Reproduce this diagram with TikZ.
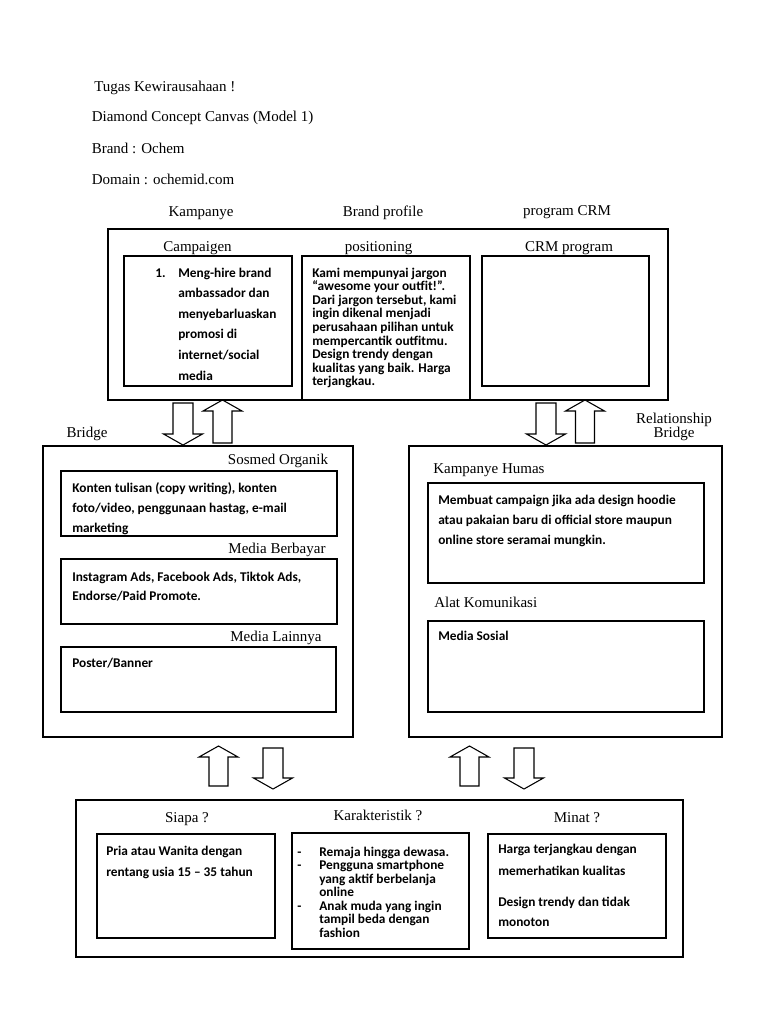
\documentclass[tikz,border=0pt]{standalone}
\usepackage{fontspec}
\setmainfont{Liberation Serif}
\newfontfamily\calibri{Carlito}
\usetikzlibrary{positioning}

\tikzset{
  lbl/.style={font=\fontsize{11.25}{13}\selectfont, inner sep=0pt, anchor=base},
  boxtext/.style={font=\calibri\bfseries\fontsize{10}{#1}\selectfont, inner sep=0pt, anchor=base west, align=left},
  boxtext/.default=15,
  frame/.style={draw, line width=0.9pt},
  pics/dnarr/.style={code={\draw[line width=0.8pt] (-10,0) -- (10,0) -- (10,#1) -- (19.5,#1) -- (0,#1+11) -- (-19.5,#1) -- (-10,#1) -- cycle;}},
  pics/uparr/.style={code={\draw[line width=0.8pt] (-9.5,0) -- (9.5,0) -- (9.5,-#1) -- (19.5,-#1) -- (0,-#1-11) -- (-19.5,-#1) -- (-9.5,-#1) -- cycle;}}
}

\begin{document}
\begin{tikzpicture}[x=0.75pt, y=-0.75pt]
  \fill[white] (0,0) rectangle (768,1024);

  % heading
  \node[lbl, anchor=base west] (tugas) at (94,91) {Tugas Kewirausahaan !};
  \node[lbl, anchor=base west] (model) at (91.5,122) {Diamond Concept Canvas (Model 1)};
  \node[lbl, anchor=base west] (brand) at (91.5,153) {Brand : Ochem};
  \node[lbl, anchor=base west] (domain) at (91.5,184) {Domain : ochemid.com};

  % brand profile row (multi-line texts sit on their last line)
  \node[lbl] (kampanye) at (201,216) {Kampanye};
  \node[lbl] (brandprofile) at (383,216) {Brand profile};
  \node[lbl] (programcrm) at (567,215) {program CRM};
  \draw[frame] (108,229) rectangle (668,400);
  \node[lbl] (campaigen) at (197.5,251) {Campaigen};
  \node[lbl] (positioning) at (378.5,251) {positioning};
  \node[lbl] (crmprogram) at (569,251) {CRM program};
  \draw[frame] (124,256) rectangle (292,386);
  \draw[frame] (302,256) rectangle (470,400);
  \draw[frame] (482,256) rectangle (649,386);
  \node[boxtext] (num) at (155,277) {1.};
  \node[boxtext=15.45] (campaigntext) at (178,380) {Meng-hire brand\\ambassador dan\\menyebarluaskan\\promosi di\\internet/social\\media};
  \node[boxtext=10.2] (positiontext) at (312,385.8) {Kami mempunyai jargon\\“awesome your outfit!”.\\Dari jargon tersebut, kami\\ingin dikenal menjadi\\perusahaan pilihan untuk\\mempercantik outfitmu.\\Design trendy dengan\\kualitas yang baik. Harga\\terjangkau.};

  % arrows between rows
  \pic at (183,403) {dnarr=31};
  \pic at (222.5,443) {uparr=32};
  \pic at (546,403) {dnarr=31};
  \pic at (585,443) {uparr=32};

  % bridge
  \node[lbl] (bridge) at (87,437) {Bridge};
  \draw[frame] (43,446) rectangle (353,737);
  \node[lbl] (sosmed) at (278,464) {Sosmed Organik};
  \draw[frame] (61,471) rectangle (337,536);
  \begin{scope}
    \clip (61,471) rectangle (337,536);
    \node[boxtext=14.8] (sosmedtext) at (72,532.4) {Konten tulisan (copy writing), konten\\foto/video, penggunaan hastag, e-mail\\marketing};
  \end{scope}
  \node[lbl] (berbayar) at (277,553) {Media Berbayar};
  \draw[frame] (61,559) rectangle (337,624);
  \node[boxtext=14.6] (berbayartext) at (72,600.5) {Instagram Ads, Facebook Ads, Tiktok Ads,\\Endorse/Paid Promote.};
  \node[lbl] (lainnya) at (276,641) {Media Lainnya};
  \draw[frame] (61,647) rectangle (336,712);
  \node[boxtext] (lainnyatext) at (72,667) {Poster/Banner};

  % relationship bridge
  \node[lbl, align=center, font=\fontsize{11.25}{10.5}\selectfont] (relbridge) at (674,437) {Relationship\\Bridge};
  \draw[frame] (409,446) rectangle (722,737);
  \node[lbl, anchor=base west] (humas) at (433,473) {Kampanye Humas};
  \draw[frame] (428,483) rectangle (704,583);
  \node[boxtext] (humastext) at (438,544) {Membuat campaign jika ada design hoodie\\atau pakaian baru di official store maupun\\online store seramai mungkin.};
  \node[lbl, anchor=base west] (alat) at (434,607) {Alat Komunikasi};
  \draw[frame] (428,621) rectangle (704,712);
  \node[boxtext] (alattext) at (438,640) {Media Sosial};

  % arrows to target row
  \pic at (218.5,786) {uparr=29};
  \pic at (273,748) {dnarr=30};
  \pic at (469.5,786) {uparr=29};
  \pic at (524,748) {dnarr=30};

  % target
  \draw[frame] (76,800) rectangle (683,957);
  \node[lbl] (siapa) at (187,822) {Siapa ?};
  \node[lbl] (karakter) at (378,820) {Karakteristik ?};
  \node[lbl] (minat) at (577,822) {Minat ?};
  \draw[frame] (97,834) rectangle (275,938);
  \draw[frame] (292,833) rectangle (469,949);
  \draw[frame] (488,834) rectangle (666,938);
  \node[boxtext=15.75] (siapatext) at (106,876) {Pria atau Wanita dengan\\rentang usia 15 – 35 tahun};
  \node[boxtext] (dash1) at (297,856) {-};
  \node[boxtext] (dash2) at (297,869.5) {-};
  \node[boxtext] (dash3) at (297,910) {-};
  \node[boxtext=10.1] (karaktertext) at (319,937) {Remaja hingga dewasa.\\Pengguna smartphone\\yang aktif berbelanja\\online\\Anak muda yang ingin\\tampil beda dengan\\fashion};
  \node[boxtext=16.5] (minattext) at (498,875) {Harga terjangkau dengan\\memerhatikan kualitas};
  \node[boxtext] (minattext2) at (498,926) {Design trendy dan tidak\\monoton};
\end{tikzpicture}
\end{document}
